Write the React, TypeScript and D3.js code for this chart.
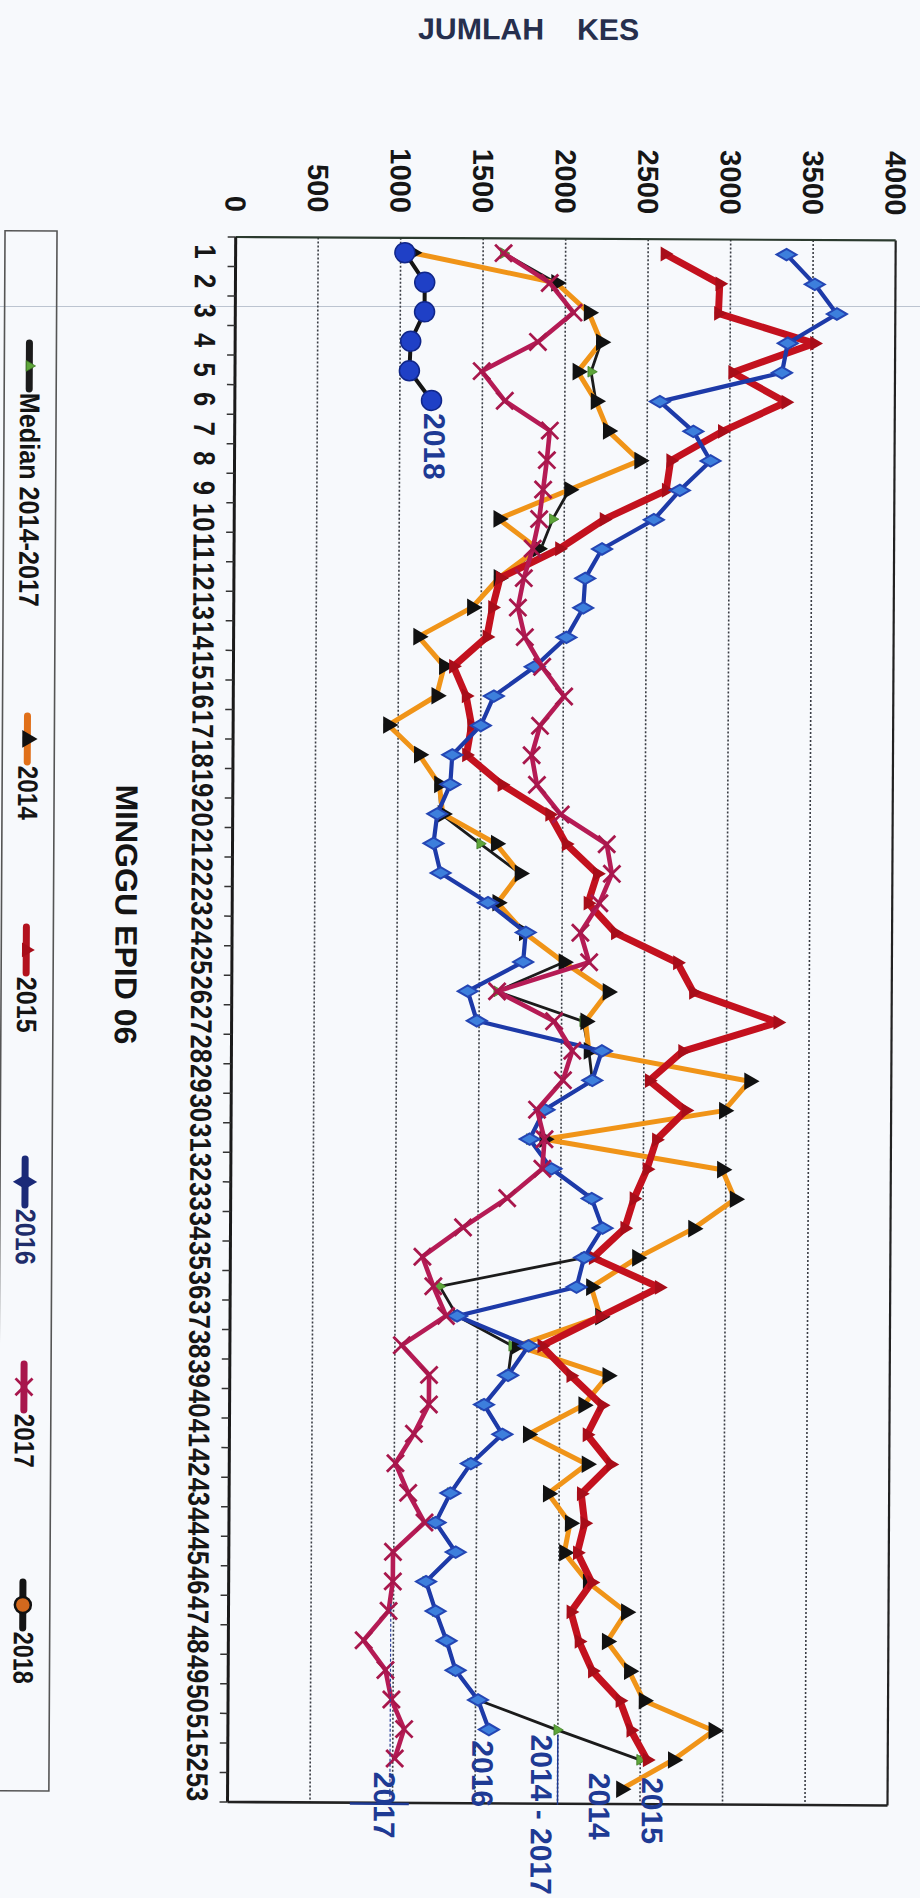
import React from 'react';
import * as d3 from 'd3';

const W = 920;
const H = 1898;
const FONT = "'Liberation Sans', Arial, sans-serif";

// weeks 1..53 and value ticks
const weeks = d3.range(1, 54);
const valueTicks = [0, 500, 1000, 1500, 2000, 2500, 3000, 3500, 4000];

// values, week 1 onward
const median = [
  1624, 1945, 2143, 2218, 2158, 2188, 2263, 2454, 2030, 1930, 1860, 1605, 1445, 1120, 1277, 1232, 940, 1128,
  1251, 1262, 1500, 1742, 1608, 1770, 2011, 1608, 2130, 2166, 2188, 1899, 1810, 1943, 2188, 2255, 2144, 1270,
  1376, 1710, 1687, 1542, 1654, 1464, 1341, 1252, 1375, 1196, 1255, 1322, 1378, 1515, 1995, 2498,
];
const y2014 = [
  1070, 1945, 2143, 2218, 2077, 2188, 2263, 2454, 2030, 1602, 1840, 1605, 1445, 1120, 1277, 1232, 940, 1128,
  1251, 1273, 1597, 1742, 1608, 1770, 2011, 2279, 2145, 2166, 3140, 2988, 1900, 2978, 3056, 2805, 2466, 2188,
  2244, 1740, 2290, 2145, 1810, 2167, 1933, 2067, 2033, 2178, 2410, 2295, 2430, 2520, 2944, 2699, 2386,
];
const y2015 = [
  2602, 2935, 2928, 3511, 3016, 3339, 2955, 2643, 2617, 2241, 1972, 1613, 1568, 1535, 1333, 1411, 1445, 1415,
  1631, 1921, 2022, 2212, 2156, 2323, 2700, 2798, 3310, 2734, 2533, 2756, 2578, 2522, 2444, 2389, 2199, 2600,
  2244, 1890, 2067, 2257, 2167, 2312, 2134, 2156, 2112, 2201, 2075, 2125, 2207, 2375, 2442, 2542,
];
const y2016 = [
  3339, 3511, 3646, 3349, 3315, 2576, 2780, 2885, 2700, 2543, 2230, 2129, 2118, 2017, 1826, 1579, 1501, 1329,
  1318, 1240, 1218, 1262, 1550, 1780, 1765, 1430, 1486, 2245, 2188, 1899, 1810, 1943, 2188, 2255, 2144, 2099,
  1376, 1810, 1687, 1542, 1654, 1464, 1341, 1252, 1375, 1196, 1255, 1322, 1378, 1515, 1582,
];
const y2017 = [
  1624, 1905, 2050, 1835, 1495, 1636, 1910, 1893, 1871, 1848, 1810, 1757, 1722, 1765, 1871, 2005, 1860, 1810,
  1843, 1988, 2268, 2300, 2225, 2111, 2165, 1608, 1955, 2066, 2010, 1854, 1900, 1888, 1676, 1409, 1164, 1231,
  1309, 1042, 1208, 1208, 1118, 1007, 1085, 1185, 995, 995, 970, 820, 953, 990, 1068, 1012,
];
const y2018 = [1026, 1147, 1147, 1064, 1057, 1192];

const legendNames = ['Median 2014-2017', '2014', '2015', '2016', '2017', '2018'];
const legendCentre = [367, 740, 951, 1183, 1388, 1606];
const legendTextLen = [214, 54, 56, 56, 54, 52];

const endLabels = ['2017', '2016', '2014 - 2017', '2014', '2015'];

// chart is drawn in its own (unrotated) frame and turned 90 degrees on the page
const xBand = d3.scaleBand<number>().domain(weeks).range([237, 1802]);
const xc = (w: number) => (xBand(w) ?? 0) + xBand.bandwidth() / 2;
const yScale = d3.scaleLinear().domain([0, 4000]).range([684.3, 24.3]);

const line = d3
  .line<number>()
  .x((_, i) => xc(i + 1))
  .y(d => yScale(d));

const tri = (size: number) => d3.symbol().type(d3.symbolTriangle).size(size)() as string;
const diamond = (size: number) => d3.symbol().type(d3.symbolDiamond).size(size)() as string;
const cross = (r: number) => `M${-r},${-r}L${r},${r}M${-r},${r}L${r},${-r}`;

type Marker = (cx: number, cy: number, k: string, legend?: boolean) => React.ReactNode;

const series: { name: string; values: number[]; color: string; width: number; marker: Marker }[] = [
  {
    name: 'median',
    values: median,
    color: '#1b1b1b',
    width: 2.8,
    marker: (cx, cy, k) => (
      <path key={k} d={tri(50)} transform={`translate(${cx},${cy})`} fill="#5ea53a" stroke="#3f7d24" strokeWidth={0.8} />
    ),
  },
  {
    name: '2014',
    values: y2014,
    color: '#f09418',
    width: 5,
    marker: (cx, cy, k) => <path key={k} d={tri(135)} transform={`translate(${cx},${cy})`} fill="#111" />,
  },
  {
    name: '2015',
    values: y2015,
    color: '#c3111e',
    width: 7,
    marker: (cx, cy, k) => <path key={k} d={tri(95)} transform={`translate(${cx},${cy})`} fill="#a80d19" />,
  },
  {
    name: '2016',
    values: y2016,
    color: '#1d3aa8',
    width: 4.2,
    marker: (cx, cy, k, legend) => (
      <path
        key={k}
        d={diamond(legend ? 120 : 115)}
        transform={`translate(${cx},${cy})`}
        fill={legend ? '#1b2a78' : '#3d7fdc'}
        stroke={legend ? '#1b2a78' : '#2446b4'}
        strokeWidth={2}
      />
    ),
  },
  {
    name: '2017',
    values: y2017,
    color: '#b51b55',
    width: 4.6,
    marker: (cx, cy, k) => (
      <path key={k} d={cross(8.5)} transform={`translate(${cx},${cy})`} stroke="#a8174c" strokeWidth={2.8} fill="none" />
    ),
  },
  {
    name: '2018',
    values: y2018,
    color: '#141414',
    width: 4,
    marker: (cx, cy, k, legend) => (
      <circle
        key={k}
        cx={cx}
        cy={cy}
        r={legend ? 8 : 10}
        fill={legend ? '#d2691e' : '#1f40c6'}
        stroke={legend ? '#111' : '#10268a'}
        strokeWidth={legend ? 2.5 : 1.5}
      />
    ),
  },
];

const legendLineColor = ['#1b1b1b', '#e0701a', '#b3121e', '#1b2a78', '#a8174c', '#141414'];

const App: React.FC = () => {
  const bw = xBand.bandwidth();
  const x0 = 237;
  const x1 = 1802;
  const yTop = yScale(4000);
  const yBase = yScale(0);

  return (
    <svg
      width={W}
      height={H}
      viewBox={`0 0 ${W} ${H}`}
      style={{ position: 'absolute', top: 0, left: 0, display: 'block', background: '#f7f9fc' }}
      fontFamily={FONT}
    >
      <rect width={W} height={H} fill="#f7f9fc" />
      <line x1={0} x2={W} y1={306.5} y2={306.5} stroke="#bcc4d0" strokeWidth={1.2} />

      {/* slight tilt of the scan */}
      <g transform="rotate(0.3 235.7 237)">
        <text x={417} y={38} fontSize={30} fontWeight="bold" fill="#262f4d" textLength={126} lengthAdjust="spacingAndGlyphs">
          JUMLAH
        </text>
        <text x={576} y={38} fontSize={30} fontWeight="bold" fill="#262f4d" textLength={62} lengthAdjust="spacingAndGlyphs">
          KES
        </text>

        <g transform={`translate(${W},0) rotate(90)`}>
          {/* gridlines */}
          {valueTicks.slice(1, -1).map(v => (
            <line
              key={v}
              x1={x0}
              x2={x1}
              y1={yScale(v)}
              y2={yScale(v)}
              stroke="#3a3d44"
              strokeWidth={1.6}
              strokeDasharray="2 2"
            />
          ))}
          {/* frame */}
          <line x1={x0} x2={x1} y1={yTop} y2={yTop} stroke="#222" strokeWidth={2.2} />
          <line x1={x0} x2={x0} y1={yTop} y2={yBase} stroke="#2b3a2e" strokeWidth={2.2} />
          <line x1={x1} x2={x1} y1={yTop} y2={yBase} stroke="#222" strokeWidth={2.6} />
          <line x1={x0} x2={x1} y1={yBase} y2={yBase} stroke="#1a1a1a" strokeWidth={3} />

          {/* week ticks and labels */}
          {d3.range(0, 54).map(i => (
            <line key={`t${i}`} x1={x0 + i * bw} x2={x0 + i * bw} y1={yBase} y2={yBase + 8} stroke="#333" strokeWidth={1.5} />
          ))}
          {weeks.map(w => {
            const len = String(w).length * 14.2;
            return (
              <text
                key={`w${w}`}
                x={xc(w) - len / 2}
                y={725}
                fontSize={30}
                fontWeight="bold"
                fill="#161616"
                textLength={len}
                lengthAdjust="spacingAndGlyphs"
              >
                {w}
              </text>
            );
          })}

          {/* value labels */}
          {valueTicks.map(v => (
            <text key={`v${v}`} x={212} y={yScale(v)} dy="0.36em" textAnchor="end" fontSize={29} fontWeight="bold" fill="#161616">
              {v}
            </text>
          ))}

          {/* series */}
          {series.map(s => (
            <g key={s.name}>
              <path d={line(s.values) ?? ''} fill="none" stroke={s.color} strokeWidth={s.width} strokeLinejoin="round" />
              {s.values.map((v, i) => s.marker(xc(i + 1), yScale(v), `${s.name}-${i}`))}
            </g>
          ))}

          {/* end-of-series labels */}
          <text x={412} y={495} fontSize={30} fontWeight="bold" fill="#1e3a94">2018</text>
          <line x1={1603} x2={1801} y1={522} y2={522} stroke="#2a3f9a" strokeWidth={1.2} strokeDasharray="3 2" />
          <line x1={1803} x2={1803} y1={503} y2={562} stroke="#1e3a94" strokeWidth={2.5} />
          <line x1={1733} x2={1803} y1={yScale(2000)} y2={yScale(2000)} stroke="#1e3a94" strokeWidth={1.4} />
          {[
            { x: 1771, y: 538 },
            { x: 1739, y: 440 },
            { x: 1733, y: 381 },
            { x: 1771, y: 323 },
            { x: 1775, y: 270 },
          ].map((p, i) => (
            <text key={endLabels[i]} x={p.x} y={p.y} fontSize={30} fontWeight="bold" fill="#1e3a94" xmlSpace="preserve">
              {endLabels[i]}
            </text>
          ))}

          {/* axis title */}
          <text x={915} y={801} textAnchor="middle" fontSize={31} fontWeight="bold" fill="#141414" textLength={260} lengthAdjust="spacingAndGlyphs">
            MINGGU EPID 06
          </text>

          {/* legend */}
          <rect x={232} y={863} width={1560} height={52} fill="none" stroke="#555" strokeWidth={1.6} />
          {legendNames.map((name, i) => {
            const c = legendCentre[i];
            return (
              <g key={name}>
                <line x1={c - 23} x2={c + 23} y1={890} y2={890} stroke={legendLineColor[i]} strokeWidth={7} strokeLinecap="round" />
                {series[i].marker(c, 890, `lg${i}`, true)}
                <text
                  x={c + 27}
                  y={899}
                  fontSize={28}
                  fontWeight="bold"
                  fill={i === 3 ? '#1f2d6b' : '#141414'}
                  textLength={legendTextLen[i]}
                  lengthAdjust="spacingAndGlyphs"
                >
                  {name}
                </text>
              </g>
            );
          })}
        </g>
      </g>
    </svg>
  );
};

export default App;
